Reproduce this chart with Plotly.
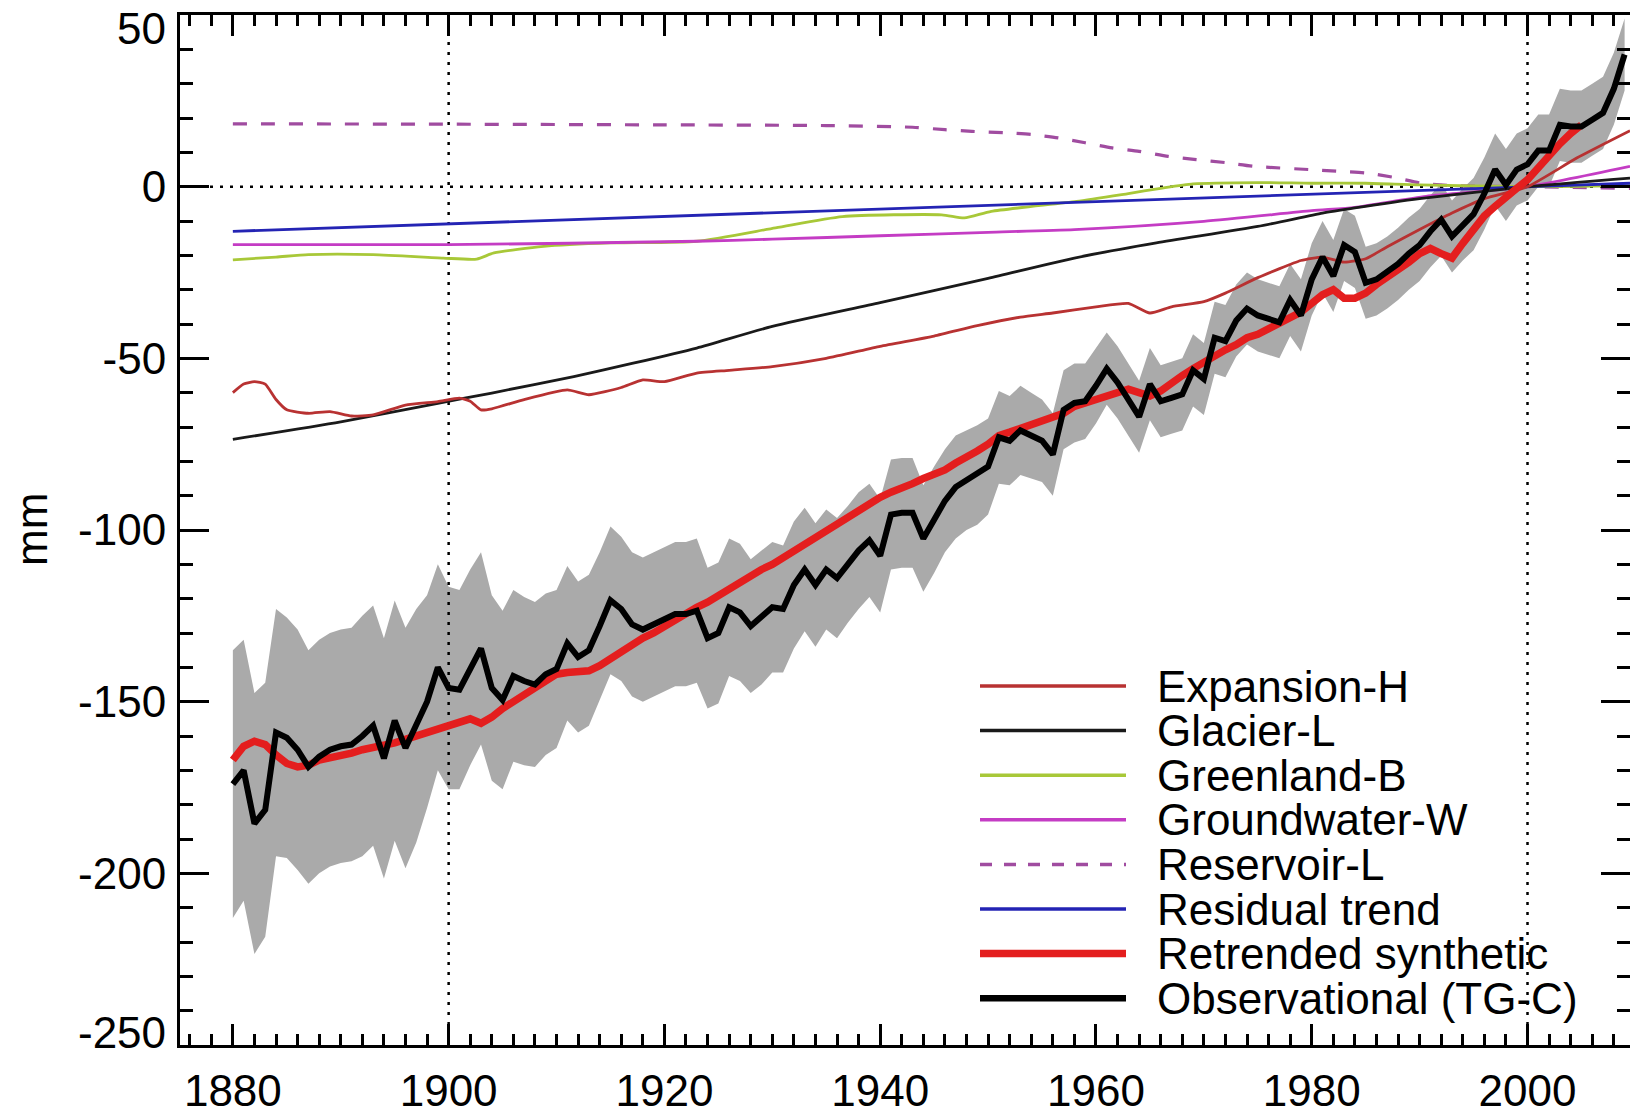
import plotly.graph_objects as go

# ---------------- data ----------------
years = list(range(1880, 2010))
obs = [
    -174, -170, -185.5, -181.5, -159, -160.5, -164, -169, -166, -164,
    -163, -162.5, -160, -157, -166.5, -155.5, -163.5, -157, -150, -140,
    -146, -146.5, -140, -134.5, -146, -149.5, -142.5, -144, -145, -142,
    -140.5, -133, -137, -135, -128, -120.5, -123, -127.5, -129, -127.5,
    -126, -124.5, -124.5, -123.5, -131.5, -130, -122.5, -124, -128, -125.5,
    -122.5, -123, -116, -111.5, -116, -111.5, -114, -110, -106, -103,
    -107.5, -95.5, -95, -95, -102.5, -97, -91.5, -87.5, -85.5, -84,
    -81.5, -73, -74, -71, -72.5, -74, -78, -65, -63, -62.5,
    -58, -53, -57, -62, -67, -57.5, -62.5, -61.5, -60.5, -53.5,
    -56, -44, -45, -39, -35.5, -37.5, -38.5, -39.5, -33, -37.5,
    -27, -20.5, -26, -17, -19, -28, -27, -25, -22.5, -19.5,
    -17, -13, -9.6, -14.5, -11, -8, -2, 5, 0.5, 5,
    6.5, 10.5, 10.5, 18, 17.5, 17.5, 19.5, 21.5, 28.5, 38.5,
]
obs_sigma = [
    39, 38, 38, 37, 36, 35, 35, 34, 34, 34,
    34, 34, 35, 35, 35, 35, 35, 34, 31, 30,
    29.5, 29, 28.5, 28, 27, 26, 25, 24.5, 24, 23.5,
    23, 22.5, 22, 22, 21.5, 21.5, 21, 21, 21, 21,
    21, 21, 21, 21, 20.5, 20.5, 20, 20, 19.5, 19.5,
    19, 18.5, 18.5, 18, 18, 17.5, 17.5, 17, 17, 16.5,
    16.5, 16, 16, 16, 15.5, 15.5, 15, 15, 14.5, 14.5,
    14, 13.5, 13, 13, 12.5, 12, 12, 11.5, 11.5, 11,
    11, 10.5, 10.5, 10.5, 10.5, 10.5, 10.5, 10.5, 10.5, 10.5,
    10.5, 10.5, 10.5, 10.5, 10.5, 10.5, 10.5, 10.5, 10.5, 10.5,
    10.5, 10.5, 10.5, 10.5, 10.5, 10.5, 10.5, 10.5, 10.5, 10.5,
    10.5, 10.5, 10.5, 10.5, 10.5, 10.5, 10.5, 10.5, 10.5, 10.5,
    10.5, 10.5, 10.5, 10.5, 10.5, 10.5, 10.5, 10.5, 10.5, 10.5,
]

synth_years = list(range(1880, 2006))
synth = [
    -167, -163, -161.5, -162.5, -165.5, -168, -169, -168.5, -167, -166.5,
    -165.5, -165, -164, -163.5, -162.7, -162, -161, -160, -159, -158,
    -157.3, -156, -155, -156.3, -154.5, -152, -150, -148, -145.5, -143.5,
    -142, -141.5, -141.3, -141, -139.5, -137.5, -135, -133.5, -131.5, -130,
    -128, -126, -124.5, -122.5, -121, -119, -117.5, -115.5, -113.5, -111.5,
    -110, -108, -106, -104.5, -102.5, -100.5, -98.5, -96, -94, -92,
    -90.5, -89, -88, -86.5, -85, -84, -82.5, -80.5, -79, -77,
    -75, -72.5, -71.5, -70.5, -69.5, -68.5, -67.5, -66, -64, -63,
    -62, -60.5, -59.5, -59, -60, -61, -59.5, -57, -55, -53,
    -51, -49, -47.5, -46, -44, -43, -41.5, -40, -38.5, -36.5,
    -34, -31.5, -30, -32.5, -32.5, -31, -28.5, -26.5, -24.5, -22,
    -19.5, -18, -19.5, -20.8, -16.5, -12.5, -8.5, -5.7, -2.8, -0.5,
    2, 5.5, 9.5, 12.5, 15.5, 18,
]

expansion_years = [1880, 1881, 1882, 1883, 1884, 1885, 1887, 1889, 1891, 1893,
                   1896, 1899, 1901, 1902, 1903, 1904, 1907, 1911, 1913, 1916,
                   1918, 1920, 1923, 1926, 1930, 1935, 1940, 1945, 1949, 1953,
                   1956, 1960, 1963, 1965, 1967, 1970, 1972, 1975, 1979, 1981,
                   1983, 1985, 1987, 1990, 1993, 1996, 2000, 2004.6, 2009.5]
expansion = [-60, -57.5, -56.8, -57.5, -62, -65, -66, -65.5, -66.8, -66.5,
             -63.6, -62.6, -61.6, -62.5, -65, -64.7, -62, -59.2, -60.6, -58.5,
             -56.3, -56.8, -54.3, -53.5, -52.4, -50, -46.5, -43.5, -40.5, -38,
             -36.8, -35, -34, -36.8, -35, -33.5, -31, -26.5, -21.5, -20.5,
             -22, -21, -17.5, -12.5, -7.7, -3.5, 0, 8.4, 16.3]

glacier_years = [1880, 1890, 1899, 1904, 1911.6, 1917, 1923, 1930, 1940, 1950,
                 1958, 1965.6, 1975, 1981, 1984, 1990, 2000, 2009.5]
glacier = [-73.6, -68.5, -63.1, -60.1, -55.3, -51.5, -47, -40.7, -33.8, -26.7,
           -20.8, -16.4, -11.6, -7.7, -6.2, -3.5, 0, 2.5]

greenland_years = [1880, 1884, 1887, 1893, 1899.5, 1902.6, 1904.2, 1908.8, 1915,
                   1923, 1930.3, 1936.5, 1945.7, 1947.8, 1950.3, 1958.2, 1963,
                   1966, 1969, 1975, 1980, 1985, 1990, 2000, 2009.5]
greenland = [-21.3, -20.5, -19.8, -19.8, -20.8, -21.1, -19.3, -17.4, -16.4,
             -15.9, -12, -8.7, -8.2, -9.1, -7.2, -4.3, -2, -0.5,
             0.8, 1.2, 1, 1, 0.5, 0, 0.3]

groundwater_years = [1880, 1900, 1923, 1930, 1940, 1950, 1958, 1970, 1980, 1984,
                     1990.6, 2000, 2009.5]
groundwater = [-16.9, -16.9, -15.9, -15.3, -14.3, -13.3, -12.5, -10.1, -7, -6,
               -2.8, 0, 5.9]

reservoir_years = [1880, 1900, 1920, 1935, 1943, 1946, 1948.5, 1951.5, 1954, 1956.5,
                   1959, 1961.5, 1964, 1966.7, 1969.3, 1972, 1974.7, 1979.7, 1982.3,
                   1985, 1987.8, 1990, 1993, 2000, 2009.5]
reservoir = [18.3, 18.2, 18.0, 17.8, 17.3, 16.6, 16.1, 15.7, 15.2, 14.2,
             12.8, 11.3, 10.3, 8.8, 7.9, 7, 5.9, 5, 4.5,
             4, 2.6, 1.1, 0.3, 0, -0.5]

residual_years = [1880, 1940, 2000, 2009.5]
residual = [-13, -6.5, 0, 1]

x_tick_vals = [1880, 1900, 1920, 1940, 1960, 1980, 2000]
x_tick_text = ["1880", "1900", "1920", "1940", "1960", "1980", "2000"]
y_tick_vals = [-250, -200, -150, -100, -50, 0, 50]
y_tick_text = ["-250", "-200", "-150", "-100", "-50", "0", "50"]
ref_years = [1900, 2000]

legend_labels = ["Expansion-H", "Glacier-L", "Greenland-B", "Groundwater-W",
                 "Reservoir-L", "Residual trend", "Retrended synthetic",
                 "Observational (TG-C)"]

# ---------------- styles ----------------
FONT = "Liberation Sans, Arial, Helvetica, sans-serif"
C_EXP = "#b83232"
C_GLA = "#1a1a1a"
C_GRN = "#a8c838"
C_GW = "#c43cc4"
C_RSV = "#a04ca0"
C_RES = "#2424b4"
C_SYN = "#e41e1e"
C_OBS = "#000000"
C_BAND = "#aaaaaa"

legend_styles = [
    dict(color=C_EXP, width=3.5),
    dict(color=C_GLA, width=3.5),
    dict(color=C_GRN, width=3.5),
    dict(color=C_GW, width=3.5),
    dict(color=C_RSV, width=3.5, dash="12px,12px"),
    dict(color=C_RES, width=3.5),
    dict(color=C_SYN, width=7.5),
    dict(color=C_OBS, width=6.5),
]

XMIN, XMAX = 1875.1, 2009.5
YMIN, YMAX = -250, 50

W, H = 1630, 1111
ML, MR, MT, MB = 180, 0, 15, 66

fig = go.Figure()

lower = [o - s for o, s in zip(obs, obs_sigma)]
upper = [o + s for o, s in zip(obs, obs_sigma)]
fig.add_trace(go.Scatter(x=years, y=lower, mode="lines", line=dict(width=0, color=C_BAND),
                         hoverinfo="skip", showlegend=False))
fig.add_trace(go.Scatter(x=years, y=upper, mode="lines", line=dict(width=0, color=C_BAND),
                         fill="tonexty", fillcolor=C_BAND, hoverinfo="skip", showlegend=False))

# dotted reference lines
for ry in ref_years:
    fig.add_trace(go.Scatter(x=[ry, ry], y=[YMIN, YMAX], mode="lines",
                             line=dict(color="black", width=2.5, dash="3px,7px"),
                             hoverinfo="skip", showlegend=False))
fig.add_trace(go.Scatter(x=[XMIN, XMAX], y=[0, 0], mode="lines",
                         line=dict(color="black", width=2.5, dash="3px,7px"),
                         hoverinfo="skip", showlegend=False))

thin = 2.8
fig.add_trace(go.Scatter(x=reservoir_years, y=reservoir, mode="lines", name="Reservoir-L",
                         line=dict(color=C_RSV, width=3.2, dash="14px,14px", shape="spline", smoothing=0.6)))
fig.add_trace(go.Scatter(x=greenland_years, y=greenland, mode="lines", name="Greenland-B",
                         line=dict(color=C_GRN, width=thin, shape="spline", smoothing=0.6)))
fig.add_trace(go.Scatter(x=groundwater_years, y=groundwater, mode="lines", name="Groundwater-W",
                         line=dict(color=C_GW, width=thin, shape="spline", smoothing=0.6)))
fig.add_trace(go.Scatter(x=residual_years, y=residual, mode="lines", name="Residual trend",
                         line=dict(color=C_RES, width=thin)))
fig.add_trace(go.Scatter(x=glacier_years, y=glacier, mode="lines", name="Glacier-L",
                         line=dict(color=C_GLA, width=thin, shape="spline", smoothing=0.6)))
fig.add_trace(go.Scatter(x=expansion_years, y=expansion, mode="lines", name="Expansion-H",
                         line=dict(color=C_EXP, width=thin, shape="spline", smoothing=0.5)))
fig.add_trace(go.Scatter(x=synth_years, y=synth, mode="lines", name="Retrended synthetic",
                         line=dict(color=C_SYN, width=7.5)))
fig.add_trace(go.Scatter(x=years, y=obs, mode="lines", name="Observational (TG-C)",
                         line=dict(color=C_OBS, width=6)))

# ---------------- manual legend ----------------
plot_w = W - ML - MR
plot_h = H - MT - MB
def px2paper_x(px):
    return (px - ML) / plot_w
def px2paper_y(py):
    return (H - MB - py) / plot_h

shapes = []
annotations = []
row0, row_step = 686, 44.6
for i, (lab, st) in enumerate(zip(legend_labels, legend_styles)):
    yy = px2paper_y(row0 + i * row_step)
    shapes.append(dict(type="line", xref="paper", yref="paper",
                       x0=px2paper_x(980), x1=px2paper_x(1126), y0=yy, y1=yy,
                       line=st, layer="above"))
    annotations.append(dict(xref="paper", yref="paper", x=px2paper_x(1155), y=yy,
                            xanchor="left", yanchor="middle", text=lab, showarrow=False,
                            font=dict(family=FONT, size=44, color="black")))

annotations.append(dict(xref="paper", yref="paper", x=px2paper_x(31), y=0.5,
                        xanchor="center", yanchor="middle", text="mm", textangle=-90,
                        showarrow=False, font=dict(family=FONT, size=44, color="black")))

# end labels of the y axis sit slightly inside the frame, as in the reference
y_tick_text_axis = list(y_tick_text)
end_label_pos = {0: 1032, len(y_tick_text) - 1: 28}
for idx, py in end_label_pos.items():
    y_tick_text_axis[idx] = ""
    annotations.append(dict(xref="paper", yref="paper", x=px2paper_x(168), y=px2paper_y(py),
                            xanchor="right", yanchor="middle", text=y_tick_text[idx],
                            showarrow=False,
                            font=dict(family=FONT, size=44, color="black")))

axis_common = dict(showgrid=False, zeroline=False, showline=True, linecolor="black",
                   linewidth=3, mirror="allticks", ticks="inside", tickcolor="black",
                   automargin=False,
                   tickfont=dict(family=FONT, size=44, color="black"))

fig.update_layout(
    width=W, height=H,
    margin=dict(l=ML, r=MR, t=MT, b=MB, pad=0, autoexpand=False),
    paper_bgcolor="white", plot_bgcolor="white",
    showlegend=False,
    shapes=shapes, annotations=annotations,
    xaxis=dict(range=[XMIN, XMAX], tickmode="array", tickvals=x_tick_vals, ticktext=x_tick_text,
               ticklen=21, tickwidth=3, ticklabelstandoff=5,
               minor=dict(dtick=2, tick0=1880, ticklen=11, tickwidth=2.5, ticks="inside",
                          tickcolor="black", showgrid=False),
               **axis_common),
    yaxis=dict(range=[YMIN, YMAX], tickmode="array", tickvals=y_tick_vals, ticktext=y_tick_text_axis,
               ticklen=29, tickwidth=3, ticklabelstandoff=2,
               minor=dict(dtick=10, tick0=0, ticklen=13, tickwidth=2.5, ticks="inside",
                          tickcolor="black", showgrid=False),
               **axis_common),
)

fig.write_html("out.html", config={"displayModeBar": False},
               post_script="document.body.style.margin='0';document.body.style.overflow='hidden';")
